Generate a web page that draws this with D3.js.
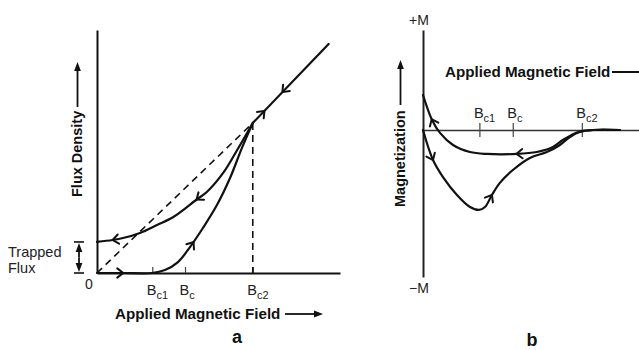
<!DOCTYPE html>
<html>
<head>
<meta charset="utf-8">
<script src="https://cdn.jsdelivr.net/npm/d3@7"></script>
<style>
    body { margin: 0; background: #fff; }
    svg { display: block; font-family: "Liberation Sans", Arial, Helvetica, sans-serif; }
</style>
</head>
<body>
<div id="chart"></div>
<script>
// Field values in units of Bc2
const fieldTicks = [0.355, 0.565, 1.0];
const tickSubs = ["c1", "c", "c2"];

// Panel a: flux density B vs applied field H (same units)
const fluxIncreasing = [[0, 0], [0.17, 0], [0.353, 0], [0.436, 0.02], [0.52, 0.073], [0.597, 0.173],
    [0.68, 0.3], [0.77, 0.453], [0.854, 0.633], [0.93, 0.833], [1, 1]];
const fluxNormal = [[1, 1], [1.487, 1.527]];
const fluxDecreasing = [[1, 1], [0.9, 0.82], [0.81, 0.667], [0.705, 0.54], [0.64, 0.49], [0.49, 0.373],
    [0.385, 0.32], [0.276, 0.267], [0.167, 0.233], [0.1, 0.22], [0, 0.207]];
const meissnerLine = [[0, 0], [1, 1]];
const trappedFlux = 0.207;

// Panel b: magnetization vs applied field
const magIncreasing = [[0, 0], [0.063, -0.204], [0.126, -0.32], [0.214, -0.442], [0.296, -0.524],
    [0.352, -0.544], [0.39, -0.524], [0.434, -0.442], [0.484, -0.36], [0.566, -0.272], [0.673, -0.19],
    [0.78, -0.15], [0.862, -0.102], [0.925, -0.048], [0.987, -0.014], [1.07, 0], [1.24, 0]];
const magDecreasing = [[1.24, 0], [1.07, 0], [0.987, -0.01], [0.925, -0.04], [0.88, -0.068],
    [0.818, -0.116], [0.717, -0.15], [0.59, -0.163], [0.4, -0.163], [0.296, -0.15], [0.189, -0.102],
    [0.107, -0.02], [0.057, 0.068], [0, 0.238]];

// Where the direction arrows sit on each curve (field value)
const arrowMarks = [
    { curve: "fluxIncreasing", h: 0.167 },
    { curve: "fluxIncreasing", h: 0.62 },
    { curve: "fluxNormal", h: 1.075 },
    { curve: "fluxNormal", h: 1.19, back: true },
    { curve: "fluxDecreasing", h: 0.64 },
    { curve: "fluxDecreasing", h: 0.1 },
    { curve: "magIncreasing", h: 0.063 },
    { curve: "magIncreasing", h: 0.434 },
    { curve: "magDecreasing", h: 0.59 },
    { curve: "magDecreasing", h: 0.055 }
];

const width = 639;
const height = 350;
const ink = "#111";

const svg = d3.select("#chart").append("svg")
    .attr("width", width)
    .attr("height", height);

svg.append("rect").attr("width", width).attr("height", height).attr("fill", "#fff");

// Scales
const xa = d3.scaleLinear().domain([0, 1.56]).range([97, 340]);
const ya = d3.scaleLinear().domain([0, 1.62]).range([273, 30]);
const xb = d3.scaleLinear().domain([0, 1.36]).range([423, 639]);
const yb = d3.scaleLinear().domain([-1, 0.68]).range([277, 30]);

function lineFor(x, y) {
    return d3.line()
        .x(d => x(d[0]))
        .y(d => y(d[1]))
        .curve(d3.curveCatmullRom.alpha(0.5));
}
const lineA = lineFor(xa, ya);
const lineB = lineFor(xb, yb);

// Filled arrow head for label arrows
function labelArrow(x1, y1, x2, y2) {
    const ang = Math.atan2(y2 - y1, x2 - x1);
    const len = 9, half = 3.4;
    const bx = x2 - len * Math.cos(ang), by = y2 - len * Math.sin(ang);
    svg.append("line")
        .attr("x1", x1).attr("y1", y1).attr("x2", bx).attr("y2", by)
        .attr("stroke", ink).attr("stroke-width", 1.8);
    svg.append("path")
        .attr("d", `M${x2},${y2}L${bx - half * Math.sin(ang)},${by + half * Math.cos(ang)}L${bx + half * Math.sin(ang)},${by - half * Math.cos(ang)}Z`)
        .attr("fill", ink);
}

function tickLabels(sel, y) {
    sel.selectAll(".tick text").remove();
    sel.selectAll(".tick").append("text")
        .attr("x", -6).attr("y", y)
        .attr("text-anchor", "start")
        .attr("fill", "#222")
        .style("font-size", "14.5px")
        .each(function (d, i) {
            const t = d3.select(this);
            t.append("tspan").text("B");
            t.append("tspan").attr("dy", 4).style("font-size", "11px").text(tickSubs[i]);
        });
}

// ---------- Panel a ----------
const axisA = svg.append("g").attr("transform", `translate(0, ${ya(0)})`)
    .call(d3.axisBottom(xa).tickValues(fieldTicks).tickSizeInner(-6).tickSizeOuter(0).tickFormat(""));
axisA.select(".domain").attr("stroke", ink).attr("stroke-width", 2);
axisA.selectAll(".tick line").attr("stroke", "#444").attr("stroke-width", 1.2);
tickLabels(axisA, 22);

const yAxisA = svg.append("g").attr("transform", `translate(${xa(0)}, 0)`)
    .call(d3.axisLeft(ya).tickValues([]).tickSizeOuter(0));
yAxisA.select(".domain").attr("stroke", ink).attr("stroke-width", 2);

// Dashed Meissner line and Bc2 marker
svg.append("path")
    .attr("d", lineA(meissnerLine))
    .attr("fill", "none").attr("stroke", ink).attr("stroke-width", 1.6)
    .attr("stroke-dasharray", "7,5");
svg.append("line")
    .attr("x1", xa(1)).attr("x2", xa(1))
    .attr("y1", ya(1)).attr("y2", ya(0))
    .attr("stroke", ink).attr("stroke-width", 1.6)
    .attr("stroke-dasharray", "7,5");

const curves = {};
[["fluxIncreasing", fluxIncreasing, lineA], ["fluxNormal", fluxNormal, lineA], ["fluxDecreasing", fluxDecreasing, lineA],
 ["magIncreasing", magIncreasing, lineB], ["magDecreasing", magDecreasing, lineB]].forEach(([name, data, gen]) => {
    curves[name] = svg.append("path")
        .attr("d", gen(data))
        .attr("fill", "none")
        .attr("stroke", ink)
        .attr("stroke-width", 2.2)
        .attr("stroke-linecap", "round");
});

// "0" label
svg.append("text").attr("x", xa(0) - 8).attr("y", 289)
    .attr("text-anchor", "middle").attr("fill", "#222").style("font-size", "14px").text("0");

// Trapped flux marker
const tfx = 79;
labelArrow(tfx, (ya(0) + ya(trappedFlux)) / 2, tfx, ya(trappedFlux) + 1);
labelArrow(tfx, (ya(0) + ya(trappedFlux)) / 2, tfx, ya(0) - 1);
[ya(trappedFlux), ya(0)].forEach(y => {
    svg.append("line").attr("x1", tfx - 5).attr("x2", tfx + 5).attr("y1", y).attr("y2", y)
        .attr("stroke", ink).attr("stroke-width", 1.6);
});
svg.append("text").attr("x", 8).attr("y", 257).attr("fill", "#222").style("font-size", "14.5px").text("Trapped");
svg.append("text").attr("x", 8).attr("y", 273).attr("fill", "#222").style("font-size", "14.5px").text("Flux");

// Axis titles panel a
svg.append("text")
    .attr("transform", "translate(82, 197) rotate(-90)")
    .attr("fill", ink).style("font-size", "14.5px").style("font-weight", "bold")
    .text("Flux Density");
labelArrow(77.5, 107, 77.5, 62);

svg.append("text").attr("x", 115).attr("y", 319)
    .attr("fill", ink).style("font-size", "15.2px").style("font-weight", "bold")
    .text("Applied Magnetic Field");
labelArrow(285, 314, 323, 314);

svg.append("text").attr("x", 237).attr("y", 343).attr("text-anchor", "middle")
    .attr("fill", ink).style("font-size", "18px").style("font-weight", "bold").text("a");

// ---------- Panel b ----------
const axisB = svg.append("g").attr("transform", `translate(0, ${yb(0)})`)
    .call(d3.axisBottom(xb).tickValues(fieldTicks).tickSizeInner(7).tickSizeOuter(0).tickFormat(""));
axisB.select(".domain").attr("stroke", "#333").attr("stroke-width", 1.4);
axisB.selectAll(".tick line").attr("y1", -7).attr("stroke", "#444").attr("stroke-width", 1.2);
tickLabels(axisB, -12);

const yAxisB = svg.append("g").attr("transform", `translate(${xb(0)}, 0)`)
    .call(d3.axisLeft(yb).tickValues([]).tickSizeOuter(0));
yAxisB.select(".domain").attr("stroke", "#222").attr("stroke-width", 2);

// bring curves of panel b above its axis
curves.magIncreasing.raise();
curves.magDecreasing.raise();

svg.append("text").attr("x", xb(0) - 4).attr("y", 25).attr("text-anchor", "middle")
    .attr("fill", "#222").style("font-size", "14px").text("+M");
svg.append("text").attr("x", xb(0) - 4).attr("y", 293).attr("text-anchor", "middle")
    .attr("fill", "#222").style("font-size", "14px").text("\u2212M");

svg.append("text")
    .attr("transform", "translate(405, 207) rotate(-90)")
    .attr("fill", ink).style("font-size", "14.5px").style("font-weight", "bold")
    .text("Magnetization");
labelArrow(400.5, 105, 400.5, 60);

svg.append("text").attr("x", 445).attr("y", 77)
    .attr("fill", ink).style("font-size", "15.2px").style("font-weight", "bold")
    .text("Applied Magnetic Field");
svg.append("line").attr("x1", 612).attr("x2", 645).attr("y1", 72).attr("y2", 72)
    .attr("stroke", ink).attr("stroke-width", 1.8);

svg.append("text").attr("x", 532).attr("y", 346).attr("text-anchor", "middle")
    .attr("fill", ink).style("font-size", "18px").style("font-weight", "bold").text("b");

// ---------- Direction arrows on curves ----------
arrowMarks.forEach(m => {
    const node = curves[m.curve].node();
    const px = (m.curve.startsWith("flux") ? xa : xb)(m.h);
    const total = node.getTotalLength();
    let best = 0, bestD = Infinity;
    for (let i = 0; i <= 500; i++) {
        const p = node.getPointAtLength(total * i / 500);
        const d = Math.abs(p.x - px);
        if (d < bestD) { bestD = d; best = total * i / 500; }
    }
    const p = node.getPointAtLength(best);
    const p0 = node.getPointAtLength(Math.max(0, best - 2));
    const p1 = node.getPointAtLength(Math.min(total, best + 2));
    let ang = Math.atan2(p1.y - p0.y, p1.x - p0.x);
    if (m.back) ang += Math.PI;
    const L = 7.5, a = 38 * Math.PI / 180;
    const l1 = [p.x - L * Math.cos(ang - a), p.y - L * Math.sin(ang - a)];
    const l2 = [p.x - L * Math.cos(ang + a), p.y - L * Math.sin(ang + a)];
    svg.append("path")
        .attr("d", `M${l1[0]},${l1[1]}L${p.x},${p.y}L${l2[0]},${l2[1]}`)
        .attr("fill", "none").attr("stroke", ink).attr("stroke-width", 2)
        .attr("stroke-linecap", "round").attr("stroke-linejoin", "miter");
});
</script>
</body>
</html>
